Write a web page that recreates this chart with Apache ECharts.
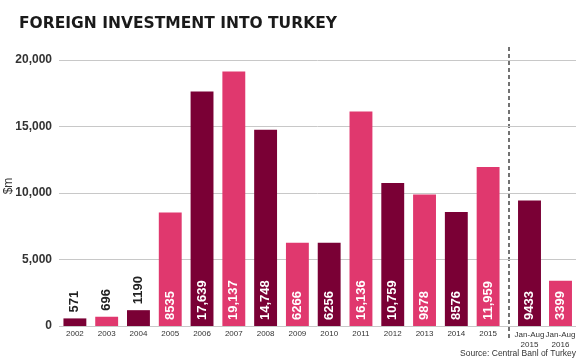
<!DOCTYPE html>
<html><head><meta charset="utf-8">
<script src="https://cdn.jsdelivr.net/npm/echarts@6/dist/echarts.min.js"></script>
<style>html,body{margin:0;padding:0;background:#fff}#c{width:584px;height:363px}</style>
</head><body><div id="c"></div>
<script>
const years = ['2002','2003','2004','2005','2006','2007','2008','2009','2010','2011','2012','2013','2014','2015'];
const yearValues = [571,696,1190,8535,17639,19137,14748,6266,6256,16136,10759,9878,8576,11959];
const partCats = ['Jan-Aug\n2015','Jan-Aug\n2016'];
const partValues = [9433,3399];
const yTicks = [0,5000,10000,15000,20000];

const DARK = '#7a0035', PINK = '#e0386e';
function fmt(v){ return v >= 10000 ? v.toLocaleString('en-US') : String(v); }
function barData(vals, offset){
  return vals.map((v,i)=>{
    const small = v < 2000;
    return {
      value: v,
      itemStyle:{color: ((i+offset)%2===0)?DARK:PINK},
      label:{
        show:true, rotate:90, position: small?'top':'insideBottom',
        align:'left', verticalAlign:'middle', distance:6,
        color: small?'#222':'#fff', fontWeight:'bold', fontSize:13,
        fontFamily:'Liberation Sans', formatter: p=>fmt(p.value)
      }
    };
  });
}
const gTop=60, gBottom=37;
const yMax = yTicks[yTicks.length-1], yInt = yTicks[1]-yTicks[0];
const chart = echarts.init(document.getElementById('c'));
chart.setOption({
  animation:false,
  title:{text:'FOREIGN INVESTMENT INTO TURKEY', left:14, top:11,
    textStyle:{fontFamily:'DejaVu Sans', fontWeight:900, fontSize:15.5, color:'#1a1a1a'}},
  graphic:[
    {type:'line', shape:{x1:509,y1:47,x2:509,y2:341}, style:{stroke:'#444', lineWidth:1.5, lineDash:[4,3]}},
    {type:'text', right:8, bottom:5, style:{text:'Source: Central Banl of Turkey', font:'8.5px "Liberation Sans"', fill:'#333'}}
  ],
  grid:[
    {left:59, right:8, top:gTop, bottom:gBottom, outerBoundsMode:'none', containLabel:false},
    {left:59, width:445, top:gTop, bottom:gBottom, outerBoundsMode:'none', containLabel:false},
    {left:514, width:62, top:gTop, bottom:gBottom, outerBoundsMode:'none', containLabel:false}
  ],
  xAxis:[
    {gridIndex:0, type:'category', data:['a'], show:false},
    {gridIndex:1, type:'category', data:years, axisLine:{show:false}, axisTick:{show:false},
      axisLabel:{fontSize:8, color:'#333', margin:4, fontFamily:'Liberation Sans', interval:0}},
    {gridIndex:2, type:'category', data:partCats, axisLine:{show:false}, axisTick:{show:false},
      axisLabel:{fontSize:8, color:'#333', margin:4, lineHeight:10, fontFamily:'Liberation Sans', interval:0}}
  ],
  yAxis:[
    {gridIndex:0, type:'value', min:0, max:yMax, interval:yInt, name:'$m', nameLocation:'middle', nameGap:44, nameRotate:90,
      nameMoveOverlap:false,
      nameTextStyle:{fontSize:12, color:'#333', fontFamily:'Liberation Sans', padding:[0,0,0,14]},
      axisLine:{show:false}, axisTick:{show:false},
      axisLabel:{fontSize:12, fontWeight:'bold', color:'#333', margin:7, fontFamily:'Liberation Sans', formatter:v=>v.toLocaleString('en-US')},
      splitLine:{lineStyle:{color:'#c8c8c8', width:1}}},
    {gridIndex:1, type:'value', min:0, max:yMax, interval:yInt, show:false, splitLine:{show:false}},
    {gridIndex:2, type:'value', min:0, max:yMax, interval:yInt, show:false, splitLine:{show:false}}
  ],
  series:[
    {type:'bar', xAxisIndex:1, yAxisIndex:1, barWidth:'72%', data:barData(yearValues,0)},
    {type:'bar', xAxisIndex:2, yAxisIndex:2, barWidth:'74%', data:barData(partValues,0)}
  ]
});
</script></body></html>
